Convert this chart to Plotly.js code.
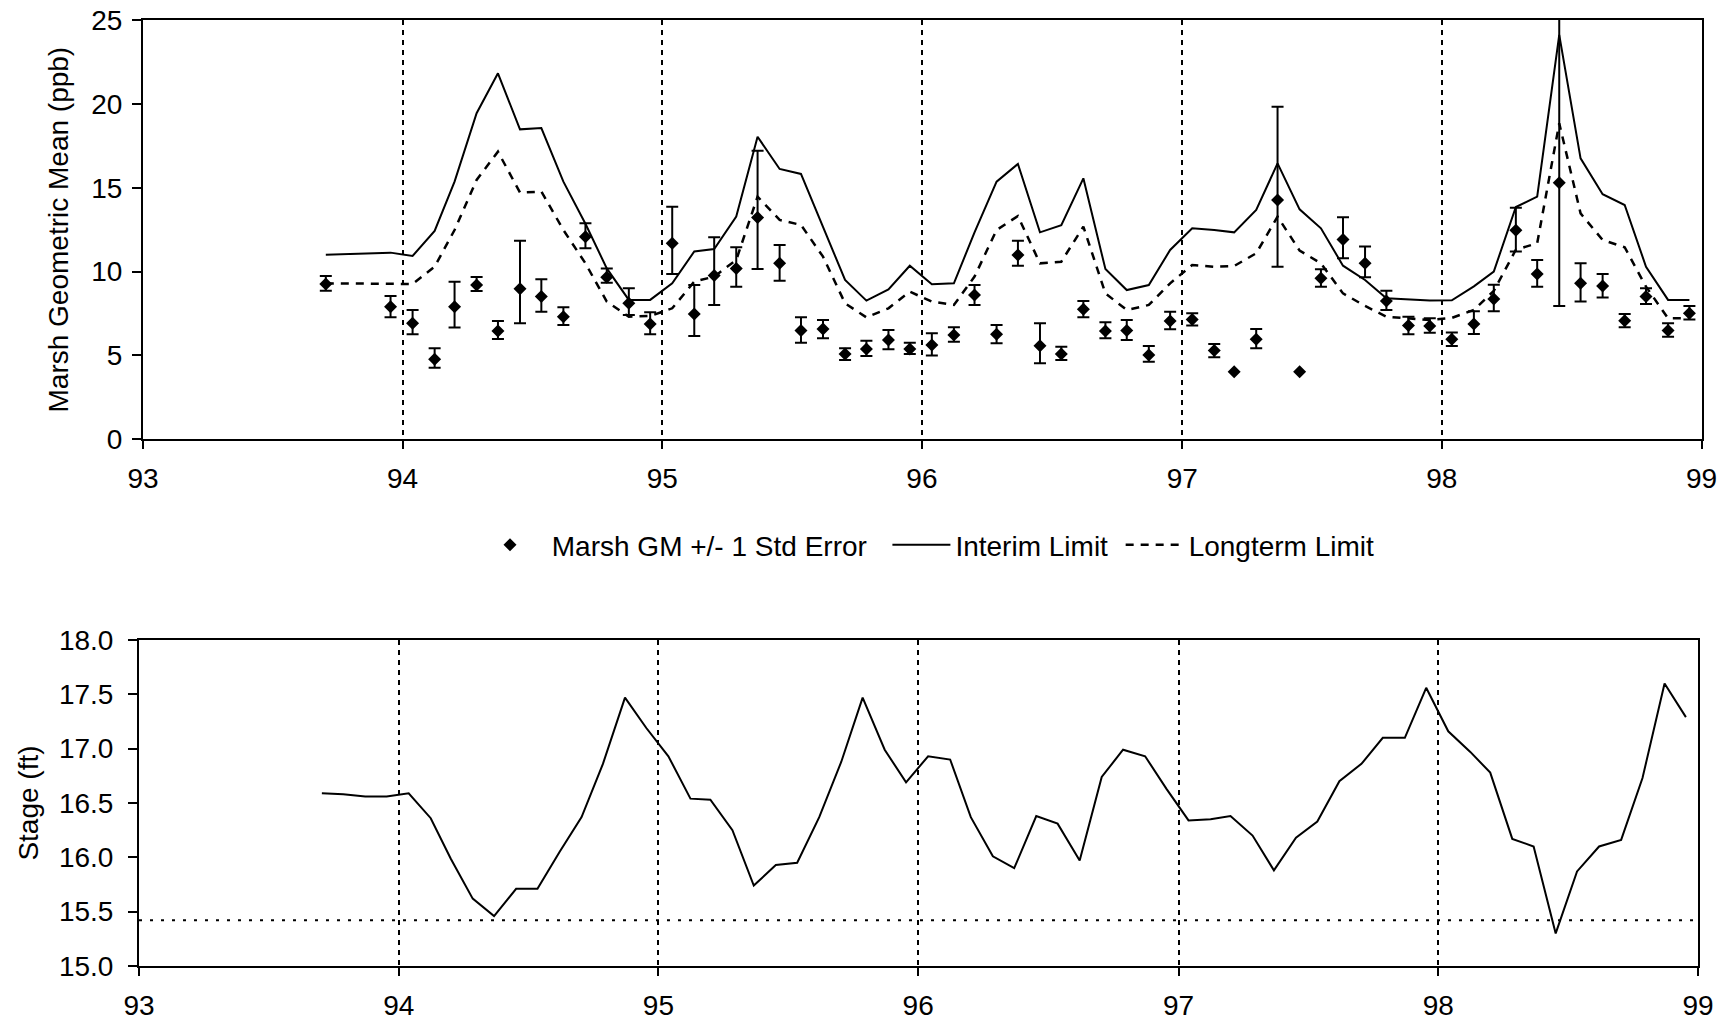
<!DOCTYPE html>
<html>
<head>
<meta charset="utf-8">
<script src="https://cdn.plot.ly/plotly-3.0.1.min.js"></script>
<style>
html,body{margin:0;padding:0;background:#ffffff;}
#chart{width:1731px;height:1025px;}
</style>
</head>
<body>
<div id="chart"></div>
<script>
// Monthly sample dates (mid-month), Sep 1993 - Dec 1998
const months = [
  '1993-09-15','1993-10-15','1993-11-15','1993-12-15',
  '1994-01-15','1994-02-15','1994-03-15','1994-04-15','1994-05-15','1994-06-15','1994-07-15','1994-08-15','1994-09-15','1994-10-15','1994-11-15','1994-12-15',
  '1995-01-15','1995-02-15','1995-03-15','1995-04-15','1995-05-15','1995-06-15','1995-07-15','1995-08-15','1995-09-15','1995-10-15','1995-11-15','1995-12-15',
  '1996-01-15','1996-02-15','1996-03-15','1996-04-15','1996-05-15','1996-06-15','1996-07-15','1996-08-15','1996-09-15','1996-10-15','1996-11-15','1996-12-15',
  '1997-01-15','1997-02-15','1997-03-15','1997-04-15','1997-05-15','1997-06-15','1997-07-15','1997-08-15','1997-09-15','1997-10-15','1997-11-15','1997-12-15',
  '1998-01-15','1998-02-15','1998-03-15','1998-04-15','1998-05-15','1998-06-15','1998-07-15','1998-08-15','1998-09-15','1998-10-15','1998-11-15','1998-12-15'
];

// Marsh geometric mean (ppb)
const marshGM = [
  9.26, null, null, 7.91,
  6.92, 4.77, 7.91, 9.20, 6.46, 8.98, 8.51, 7.31, 12.08, 9.66, 8.11, 6.88,
  11.69, 7.47, 9.76, 10.19, 13.22, 10.49, 6.48, 6.58, 5.09, 5.39, 5.92, 5.39,
  5.62, 6.22, 8.60, 6.26, 10.99, 5.58, 5.09, 7.75, 6.46, 6.48, 5.03, 7.05,
  7.15, 5.29, 4.03, 5.96, 14.27, 4.03, 9.60, 11.92, 10.49, 8.25, 6.78, 6.76,
  5.96, 6.88, 8.36, 12.46, 9.86, 15.30, 9.30, 9.14, 7.07, 8.51, 6.48, 7.51
];
// GM + 1 std error (upper end of bar)
const marshHigh = [
  9.74, null, null, 8.55,
  7.71, 5.43, 9.40, 9.68, 7.05, 11.84, 9.54, 7.87, 12.88, 10.19, 9.00, 7.57,
  13.87, 9.20, 12.04, 11.45, 17.21, 11.59, 7.27, 7.11, 5.43, 5.88, 6.52, 5.76,
  6.32, 6.68, 9.20, 6.82, 11.84, 6.92, 5.52, 8.25, 6.98, 7.11, 5.56, 7.61,
  7.51, 5.68, null, 6.58, 19.83, null, 10.14, 13.24, 11.49, 8.86, 7.31, 7.21,
  6.37, 7.64, 9.22, 13.80, 10.69, 25.30, 10.49, 9.86, 7.47, 9.00, 6.92, 7.95
];
// GM - 1 std error (lower end of bar)
const marshLow = [
  8.86, null, null, 7.27,
  6.26, 4.27, 6.66, 8.84, 5.98, 6.92, 7.61, 6.82, 11.39, 9.34, 7.41, 6.26,
  9.86, 6.16, 8.00, 9.10, 10.15, 9.46, 5.76, 6.02, 4.73, 4.97, 5.37, 5.09,
  4.99, 5.82, 8.01, 5.72, 10.35, 4.53, 4.73, 7.27, 6.02, 5.92, 4.63, 6.56,
  6.78, 4.89, null, 5.43, 10.29, null, 9.10, 10.79, 9.66, 7.71, 6.26, 6.36,
  5.56, 6.28, 7.63, 11.19, 9.10, 7.95, 8.21, 8.45, 6.68, 8.07, 6.12, 7.15
];

// Interim limit (ppb)
const interimLimit = [
  11.01, 11.05, 11.13, 11.13,
  10.93, 12.42, 15.36, 19.44, 21.82, 18.48, 18.56, 15.36, 12.85, 10.19, 8.31, 8.31,
  9.30, 11.20, 11.35, 13.28, 18.04, 16.12, 15.82, 12.68, 9.50, 8.27, 8.94, 10.35,
  9.24, 9.30, 12.34, 15.36, 16.42, 12.34, 12.76, 15.56, 10.15, 8.90, 9.20, 11.29,
  12.58, 12.48, 12.34, 13.67, 16.45, 13.71, 12.58, 10.35, 9.50, 8.41, 8.35, 8.27,
  8.29, 9.12, 10.00, 13.85, 14.47, 24.11, 16.75, 14.61, 13.97, 10.29, 8.31, 8.31
];

// Longterm limit (ppb)
const longtermLimit = [
  9.30, 9.30, 9.30, 9.26,
  9.26, 10.29, 12.48, 15.46, 17.15, 14.71, 14.77, 12.48, 10.49, 8.21, 7.31, 7.35,
  7.81, 9.40, 9.70, 10.69, 14.47, 13.08, 12.78, 10.89, 8.11, 7.27, 7.81, 8.80,
  8.21, 8.01, 9.70, 12.48, 13.31, 10.49, 10.59, 12.68, 8.70, 7.71, 8.01, 9.30,
  10.39, 10.29, 10.33, 11.09, 13.28, 11.25, 10.49, 8.70, 7.95, 7.31, 7.21, 7.11,
  7.24, 7.71, 8.85, 11.30, 11.69, 18.84, 13.47, 11.88, 11.45, 9.10, 7.21, 7.21
];

// Stage (ft)
const stage = [
  16.59, 16.58, 16.56, 16.56,
  16.59, 16.36, 15.99, 15.62, 15.46, 15.71, 15.71, 16.05, 16.37, 16.86, 17.47, 17.19,
  16.93, 16.54, 16.53, 16.25, 15.74, 15.93, 15.95, 16.37, 16.88, 17.47, 16.99, 16.69,
  16.93, 16.90, 16.37, 16.01, 15.90, 16.38, 16.31, 15.97, 16.74, 16.99, 16.93, 16.63,
  16.34, 16.35, 16.38, 16.20, 15.88, 16.18, 16.33, 16.70, 16.86, 17.10, 17.10, 17.56,
  17.16, 16.97, 16.78, 16.17, 16.10, 15.30, 15.87, 16.10, 16.16, 16.73, 17.60, 17.29
];
const stageReference = 15.42;

const yearTicks = ['1993-01-01','1994-01-01','1995-01-01','1996-01-01','1997-01-01','1998-01-01','1999-01-01'];
const yearLabels = ['93','94','95','96','97','98','99'];

// error amounts from the read bar ends (NaN = no bar drawn)
const errPlus = marshGM.map((v, i) => (v === null || marshHigh[i] === null) ? NaN : marshHigh[i] - v);
const errMinus = marshGM.map((v, i) => (v === null || marshLow[i] === null) ? NaN : v - marshLow[i]);

const FONT = 'Arial, "Liberation Sans", Helvetica, sans-serif';
const W = 1731, H = 1025;
const NB = '\u00a0';

const traces = [
  {
    name: NB + 'Marsh GM +/- 1 Std Error' + NB + NB,
    x: months, y: marshGM, xaxis: 'x', yaxis: 'y',
    type: 'scatter', mode: 'markers', cliponaxis: false,
    marker: {symbol: 'diamond', size: 10, color: '#000'},
    error_y: {type: 'data', symmetric: false, array: errPlus, arrayminus: errMinus,
              color: '#000', thickness: 2, width: 6}
  },
  {
    name: 'Interim Limit' + NB,
    x: months, y: interimLimit, xaxis: 'x', yaxis: 'y',
    type: 'scatter', mode: 'lines',
    line: {color: '#000', width: 2}
  },
  {
    name: 'Longterm Limit',
    x: months, y: longtermLimit, xaxis: 'x', yaxis: 'y',
    type: 'scatter', mode: 'lines',
    line: {color: '#000', width: 2.5, dash: '8px,7px'}
  },
  {
    name: 'Stage',
    x: months, y: stage, xaxis: 'x2', yaxis: 'y2',
    type: 'scatter', mode: 'lines', showlegend: false,
    line: {color: '#000', width: 2}
  }
];

function xAxis(domain, anchor) {
  return {
    domain: domain, anchor: anchor, type: 'date',
    range: ['1993-01-01', '1999-01-01'],
    tickmode: 'array', tickvals: yearTicks, ticktext: yearLabels,
    showline: true, linecolor: '#000', linewidth: 2, mirror: true,
    ticks: 'outside', ticklen: 8, tickwidth: 2, tickcolor: '#000',
    ticklabelstandoff: 5,
    tickfont: {family: FONT, size: 28, color: '#000'},
    showgrid: true, gridcolor: '#000', gridwidth: 2, griddash: '5px,5px',
    zeroline: false, automargin: false, fixedrange: true
  };
}

const layout = {
  width: W, height: H,
  margin: {l: 0, r: 0, t: 0, b: 0},
  paper_bgcolor: '#fff', plot_bgcolor: '#fff',
  font: {family: FONT, size: 28, color: '#000'},
  showlegend: true,
  legend: {
    orientation: 'h', x: 928 / W, xanchor: 'center', y: (H - 545) / H, yanchor: 'middle',
    font: {family: FONT, size: 28, color: '#000'}, bgcolor: 'rgba(0,0,0,0)',
    itemwidth: 58, traceorder: 'normal'
  },
  xaxis: xAxis([143 / W, 1701.5 / W], 'y'),
  yaxis: {
    domain: [(H - 439.3) / H, (H - 20) / H], anchor: 'x',
    range: [0, 25], tickmode: 'linear', tick0: 0, dtick: 5,
    showline: true, linecolor: '#000', linewidth: 2, mirror: true,
    ticks: 'outside', ticklen: 9, tickwidth: 2, tickcolor: '#000',
    ticklabelstandoff: 4,
    tickfont: {family: FONT, size: 28, color: '#000'},
    showgrid: false, zeroline: false, automargin: false, fixedrange: true,
    title: {text: 'Marsh Geometric Mean (ppb)', font: {family: FONT, size: 28, color: '#000'}, standoff: 14}
  },
  xaxis2: xAxis([139 / W, 1698 / W], 'y2'),
  yaxis2: {
    domain: [(H - 966) / H, (H - 640) / H], anchor: 'x2',
    range: [15, 18], tickmode: 'linear', tick0: 15, dtick: 0.5, tickformat: '.1f',
    showline: true, linecolor: '#000', linewidth: 2, mirror: true,
    ticks: 'outside', ticklen: 9, tickwidth: 2, tickcolor: '#000',
    ticklabelstandoff: 9,
    tickfont: {family: FONT, size: 28, color: '#000'},
    showgrid: false, zeroline: false, automargin: false, fixedrange: true,
    title: {text: 'Stage (ft)', font: {family: FONT, size: 28, color: '#000'}, standoff: 12}
  },
  shapes: [
    {type: 'line', xref: 'x2 domain', x0: 0, x1: 1, yref: 'y2', y0: stageReference, y1: stageReference,
     line: {color: '#000', width: 2, dash: '3px,8px'}, layer: 'above'}
  ]
};

Plotly.newPlot('chart', traces, layout, {displayModeBar: false, staticPlot: true});
</script>
</body>
</html>
